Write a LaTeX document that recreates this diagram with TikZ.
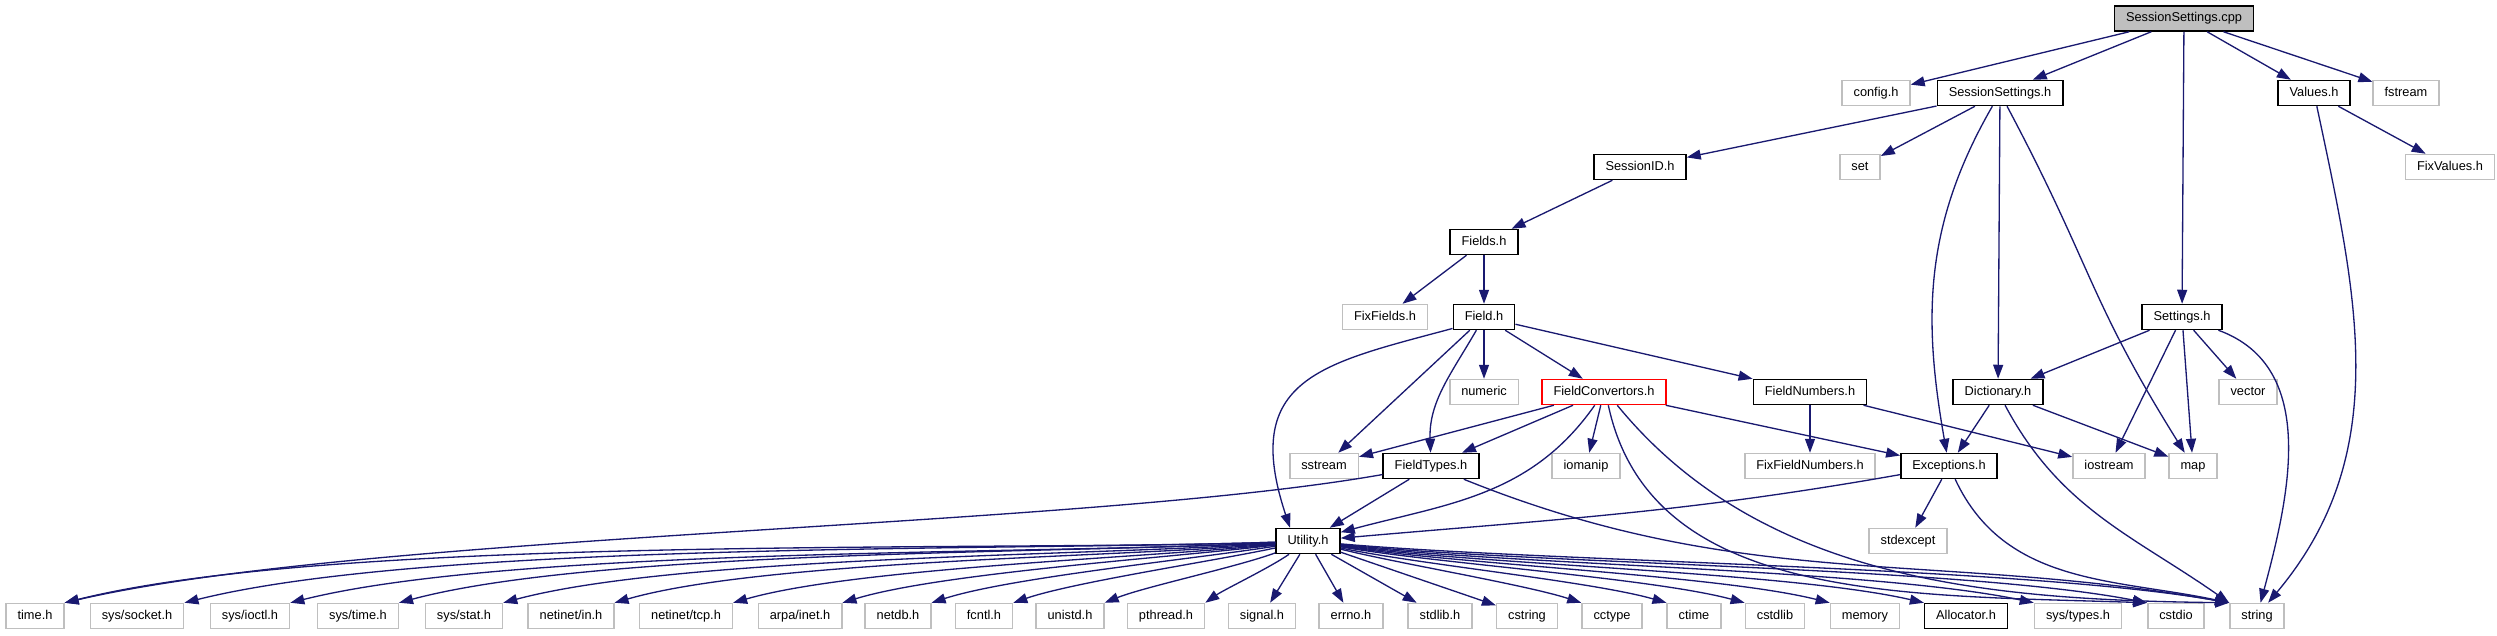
\documentclass[tikz,border=0pt]{standalone}
\usepackage{fontspec}
\setmainfont{Liberation Sans}
\usepackage{xcolor}
\usepackage{tikz}
\usetikzlibrary{arrows.meta}

\definecolor{edgeblue}{RGB}{25,25,112}
\definecolor{boxgray}{RGB}{191,191,191}

\begin{document}
\begin{tikzpicture}[x=0.25pt, y=0.25pt, >={Triangle[length=3.5pt, width=2.5pt]},
    box/.style={draw, line width=0.375pt, inner xsep=2.875pt, inner ysep=0pt,
        minimum height=6.25pt, text height=2.35pt, text depth=0.65pt,
        font=\fontsize{3.2}{3.5}\selectfont},
    hdr/.style={box, draw=black},
    sys/.style={box, draw=boxgray},
    dep/.style={->, edgeblue, line width=0.33pt}]
        \useasboundingbox (0,0) rectangle (2497,635);

        % top rows
        \node[hdr, fill=boxgray] (cpp) at (2184,616.5) {SessionSettings.cpp};
        \node[sys] (config) at (1876,542) {config.h};
        \node[hdr] (sessh) at (2000,542) {SessionSettings.h};
        \node[hdr] (values) at (2314,542) {Values.h};
        \node[sys] (fstream) at (2406,542) {fstream};
        \node[hdr] (sessid) at (1640,468) {SessionID.h};
        \node[sys] (set) at (1860,468) {set};
        \node[sys] (fixvalues) at (2450,468) {FixValues.h};
        \node[hdr] (fields) at (1484,393) {Fields.h};
        \node[sys] (fixfields) at (1385,318) {FixFields.h};
        \node[hdr] (field) at (1484,318) {Field.h};
        \node[hdr] (settings) at (2182,318) {Settings.h};

        % middle rows
        \node[sys] (numeric) at (1484,243) {numeric};
        \node[hdr, draw=red] (conv) at (1604,243) {FieldConvertors.h};
        \node[hdr] (fieldnum) at (1810,243) {FieldNumbers.h};
        \node[hdr] (dict) at (1998,243) {Dictionary.h};
        \node[sys] (vector) at (2248,243) {vector};
        \node[sys] (sstream) at (1324,169) {sstream};
        \node[hdr] (ftypes) at (1431,169) {FieldTypes.h};
        \node[sys] (iomanip) at (1586,169) {iomanip};
        \node[sys] (fixfnum) at (1810,169) {FixFieldNumbers.h};
        \node[hdr] (except) at (1949,169) {Exceptions.h};
        \node[sys] (iostream) at (2109,169) {iostream};
        \node[sys] (map) at (2193,169) {map};
        \node[hdr] (util) at (1308,94) {Utility.h};
        \node[sys] (stdexcept) at (1908,94) {stdexcept};

        % bottom row
        \foreach \x/\n/\l in {35/tm/{time.h}, 137/socket/{sys/socket.h}, 250/ioctl/{sys/ioctl.h},
                358/systime/{sys/time.h}, 464/stat/{sys/stat.h}, 571/netin/{netinet/in.h},
                686/nettcp/{netinet/tcp.h}, 800/arpa/{arpa/inet.h}, 898/netdb/{netdb.h},
                984/fcntl/{fcntl.h}, 1070/unistd/{unistd.h}, 1166/pthread/{pthread.h},
                1262/signal/{signal.h}, 1351/errno/{errno.h}, 1440/stdlib/{stdlib.h},
                1527/cstring/{cstring}, 1612/cctype/{cctype}, 1694/ctime/{ctime},
                1775/cstdlib/{cstdlib}, 1865/memory/{memory}, 2078/systypes/{sys/types.h},
                2176/cstdio/{cstdio}, 2257/string/{string}} {
            \node[sys] (\n) at (\x,19) {\l};
        }
        \node[hdr] (alloc) at (1966,19) {Allocator.h};

        % straight includes
        \foreach \s/\t in {cpp/config, cpp/sessh, cpp/settings, cpp/values, cpp/fstream,
                sessh/sessid, sessh/set, sessh/dict, values/fixvalues, sessid/fields,
                fields/fixfields, fields/field, field/sstream, field/numeric, field/conv,
                field/fieldnum, settings/dict, settings/iostream, settings/map, settings/vector,
                conv/sstream, conv/ftypes, conv/iomanip, conv/except, fieldnum/fixfnum,
                fieldnum/iostream, dict/except, dict/map, ftypes/util, except/stdexcept,
                util/signal, util/errno, util/stdlib, util/cstring} {
            \draw[dep] (\s) -- (\t);
        }

        % curved includes
        \draw[dep] (sessh) to[out=240, in=100] (except);
        \draw[dep] (sessh) to[out=-62, in=122, looseness=1.2] (map);
        \draw[dep] (values) to[out=-78, in=50] (string);
        \draw[dep] (settings) to[out=-20, in=75] (string);
        \draw[dep] (dict) to[out=-62, in=145] (string.north west);
        \draw[dep] (field.200) .. controls +(-130,-35) and +(-50,150) .. ([xshift=-4.5pt]util.north);
        \draw[dep] (field) to[out=-120, in=92] (ftypes);
        \draw[dep] (conv) to[out=-125, in=15] (util);
        \draw[dep] (conv.-72) .. controls +(42,-196) and +(-248,8) .. (cstdio.north west);
        \draw[dep] (conv.-45) .. controls +(144,-176) and +(-240,3) .. (string.north west);
        \draw[dep] (ftypes) to[out=190, in=13, looseness=0.6] (tm.north east);
        \draw[dep] (ftypes) to[out=-22, in=170] (string.north west);
        \draw[dep] (except) to[out=190, in=5] (util);
        \draw[dep] (except) to[out=-65, in=168] (string.north west);

        % Utility.h fan
        \foreach \t/\o/\i in {tm/182/14, socket/182/14, ioctl/183/14, systime/183/15,
                stat/184/15, netin/185/16, nettcp/186/16, arpa/187/17, netdb/189/18,
                fcntl/192/19, unistd/200/22, pthread/215/35} {
            \draw[dep] (util) to[out=\o, in=\i, looseness=0.6] (\t.north east);
        }
        \foreach \t/\o/\i in {cctype/-14/162, ctime/-12/164, cstdlib/-10/165, memory/-9/166,
                alloc/-8/167, systypes/-7/168, cstdio/-6/169, string/-5/170} {
            \draw[dep] (util) to[out=\o, in=\i, looseness=0.6] (\t.north west);
        }
    \end{tikzpicture}
\end{document}
